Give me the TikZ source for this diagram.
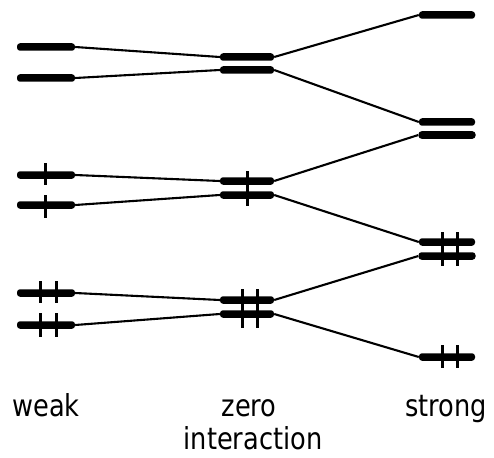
\documentclass[tikz,border=0pt]{standalone}
\usepackage{fontspec}
\setmainfont{DejaVu Sans}
\usetikzlibrary{calc}

\begin{document}
\begin{tikzpicture}[x=1pt, y=-1pt,
		level/.style = {fill=black, rectangle, rounded corners=3pt, inner sep=0pt, minimum height=7.5pt},
		link/.style = {line width=2.1pt},
		tick/.style = {line width=3pt},
		caption/.style = {font=\fontsize{27}{32}\selectfont, align=center, anchor=base, xscale=0.95, yscale=1.12}]
		\useasboundingbox (0,0) rectangle (494,457);
		
		\def\wx{46};
		\def\zx{247};
		\def\sx{447};
		
		% weak
		\node [level, minimum width=58pt] (w1) at (\wx,47) {};
		\node [level, minimum width=58pt] (w2) at (\wx,78) {};
		\node [level, minimum width=58pt] (w3) at (\wx,175) {};
		\node [level, minimum width=58pt] (w4) at (\wx,205) {};
		\node [level, minimum width=58pt] (w5) at (\wx,293) {};
		\node [level, minimum width=58pt] (w6) at (\wx,325) {};
		
		% zero interaction
		\node [level, minimum width=54pt] (z1) at (\zx,57) {};
		\node [level, minimum width=54pt] (z2) at (\zx,70) {};
		\node [level, minimum width=54pt] (z3) at (\zx,181) {};
		\node [level, minimum width=54pt] (z4) at (\zx,195) {};
		\node [level, minimum width=54pt] (z5) at (\zx,300) {};
		\node [level, minimum width=54pt] (z6) at (\zx,314) {};
		
		% strong
		\node [level, minimum width=56pt] (s1) at (\sx,15) {};
		\node [level, minimum width=56pt] (s2) at (\sx,122) {};
		\node [level, minimum width=57pt] (s3) at (\sx,135) {};
		\node [level, minimum width=56pt] (s4) at (\sx,242) {};
		\node [level, minimum width=57pt] (s5) at (\sx,256) {};
		\node [level, minimum width=56pt] (s6) at (\sx,357) {};
		
		\begin{scope}[link]
			\foreach \i in {1,...,6} {
				\draw (w\i.east) -- (z\i.west);
				\draw (z\i.east) -- (s\i.west);
			}
		\end{scope}
		
		\begin{scope}[tick]
			\draw ($(w3)+(-1,-12)$) -- ($(w3)+(-1,10)$);
			\draw ($(w4)+(-1,-10)$) -- ($(w4)+(-1,13)$);
			\draw ($(z3)+(0,-10)$) -- ($(z4)+(0,11)$);
			\foreach \dx in {-6,10} {
				\draw ($(w5)+(\dx,-12)$) -- ($(w5)+(\dx,10)$);
				\draw ($(w6)+(\dx,-12)$) -- ($(w6)+(\dx,12)$);
			}
			\foreach \dx in {-5,10} {
				\draw ($(z5)+(\dx,-11)$) -- ($(z6)+(\dx,14)$);
				\draw ($(s4)+(\dx,-10)$) -- ($(s5)+(\dx,10)$);
				\draw ($(s6)+(\dx,-12)$) -- ($(s6)+(\dx,11)$);
			}
		\end{scope}
		
		\node [caption] (weak) at (\wx,416) {weak};
		\node [caption] (zero) at (249,416) {zero};
		\node [caption] (inter) at (253,449) {interaction};
		\node [caption] (strong) at (446,416) {strong};
	\end{tikzpicture}
\end{document}
